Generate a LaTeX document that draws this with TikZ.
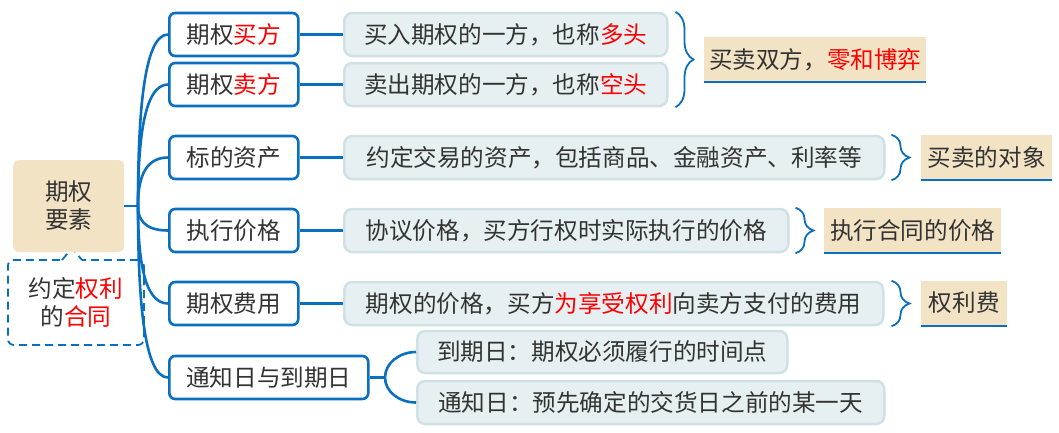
\documentclass[tikz,border=0pt]{standalone}
\usepackage{fontspec}
\setmainfont{Noto Sans CJK SC}
\usetikzlibrary{decorations.pathreplacing}
\definecolor{mblue}{HTML}{0A6FBF}
\definecolor{txt}{HTML}{333333}
\definecolor{leafbg}{HTML}{E6EFF1}
\definecolor{leafbd}{HTML}{D0E1E5}
\definecolor{tan}{HTML}{F2E3C5}
\newcommand{\redtxt}[1]{\textcolor{red}{#1}}

\begin{document}
\begin{tikzpicture}[x=1pt, y=-1pt,
  every node/.style={font=\fontsize{23.6}{28}\selectfont, text=txt, inner sep=0pt},
  lnk/.style={draw=mblue, line width=2.6pt},
  brc/.style={draw=mblue, line width=1.8pt, decorate, decoration={brace, amplitude=18pt}}]
\useasboundingbox (0,0) rectangle (1059,432);
\tikzstyle{kid}=[draw=mblue, line width=2.6pt, rounded corners=6pt, fill=white, minimum width=129, minimum height=43, anchor=west]
\tikzstyle{leaf}=[draw=leafbd, line width=2.5pt, rounded corners=8pt, fill=leafbg, minimum height=43, anchor=west]
\tikzstyle{sum}=[fill=tan, minimum height=45, anchor=west]
% callout under the root
\node[draw=mblue, dashed, dash pattern=on 8pt off 5pt, line width=1.8pt, rounded corners=6pt,
  minimum width=136, minimum height=85, anchor=west, align=center] (note) at (7,302.5)
  {约定\redtxt{权利}\\的\redtxt{合同}};
\fill[white] (61,257) rectangle (82,263);
\draw[mblue, dashed, dash pattern=on 8pt off 5pt, line width=1.8pt] (62,260) -- (72,248) -- (82,260);
\node[fill=tan, rounded corners=6pt, minimum width=111, minimum height=92, anchor=west, align=center] (R) at (13,206) {期权\\要素};
% first level
\node[kid] (buy) at (168,34.5) {期权\redtxt{买方}};
\node[kid] (sell) at (168,84.5) {期权\redtxt{卖方}};
\node[kid] (asset) at (168,157.5) {标的资产};
\node[kid] (strike) at (168,230.5) {执行价格};
\node[kid] (fee) at (168,303.5) {期权费用};
\node[kid, minimum width=199] (date) at (168,377.5) {通知日与到期日};
% second level
\node[leaf, minimum width=323] (l1) at (343,34.5) {买入期权的一方，也称\redtxt{多头}};
\node[leaf, minimum width=323] (l2) at (343,84.5) {卖出期权的一方，也称\redtxt{空头}};
\node[leaf, minimum width=540] (l3) at (343,157.5) {约定交易的资产，包括商品、金融资产、利率等};
\node[leaf, minimum width=444] (l4) at (343,230.5) {协议价格，买方行权时实际执行的价格};
\node[leaf, minimum width=539] (l5) at (343,303.5) {期权的价格，买方\redtxt{为享受权利}向卖方支付的费用};
\node[leaf, minimum width=370, minimum height=42] (l6) at (416,352) {到期日：期权必须履行的时间点};
\node[leaf, minimum width=467] (l7) at (416,402.5) {通知日：预先确定的交货日之前的某一天};
% summaries
\node[sum, minimum width=222] (s1) at (704,59.5) {买卖双方，\redtxt{零和博弈}};
\node[sum, minimum width=131] (s2) at (921,157.5) {买卖的对象};
\node[sum, minimum width=177] (s3) at (824,230.5) {执行合同的价格};
\node[sum, minimum width=86] (s4) at (921,303) {权利费};
\foreach \s in {s1,s2,s3,s4}{\draw[mblue, line width=2pt] (\s.south west) -- (\s.south east);}
% connectors
\coordinate (rj) at (138,206);
\draw[lnk] (R.east) -- (rj);
\foreach \k/\d in {buy/-86,sell/-61,asset/-24,strike/12,fee/49,date/86}{\draw[lnk] (rj) .. controls +(0,\d) and +(-25,0) .. (\k.west);}
\foreach \i/\j in {buy/l1,sell/l2,asset/l3,strike/l4,fee/l5}{\draw[lnk] (\i) -- (\j);}
\coordinate (dj) at (385,377.5);
\draw[lnk] (date.east) -- (dj);
\draw[lnk] (dj) .. controls +(0,-14) and +(-17,0) .. (l6.west);
\draw[lnk] (dj) .. controls +(0,14) and +(-17,0) .. (l7.west);
% braces
\draw[brc] ([xshift=7pt]l1.north east) -- ([xshift=7pt]l2.south east);
\draw[brc] ([xshift=6pt]l3.north east) -- ([xshift=6pt]l3.south east);
\draw[brc] ([xshift=6pt]l4.north east) -- ([xshift=6pt]l4.south east);
\draw[brc] ([xshift=7pt]l5.north east) -- ([xshift=7pt]l5.south east);
\end{tikzpicture}
\end{document}
